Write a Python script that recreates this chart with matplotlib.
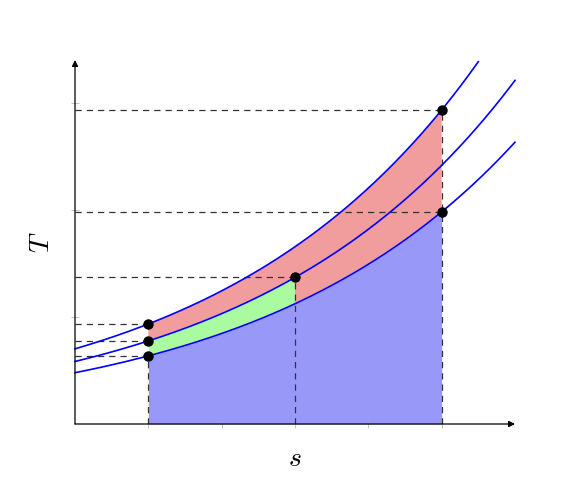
import numpy as np
import matplotlib
matplotlib.use("Agg")
import matplotlib.pyplot as plt
from matplotlib.patches import Polygon

plt.rcParams['mathtext.fontset'] = 'cm'

# isobar curves T = a * exp(b * s)
curve_a = [0.479, 0.584, 0.702]   # lower, middle, upper
curve_b = [0.284, 0.284, 0.286]
curve_smax = [6.0, 6.0, 5.5]

# state points (s, curve index)
s_left = 1.0
s_mid = 3.0
s_right = 5.0

x_ticks = [1, 2, 3, 4, 5]
y_ticks = [1, 2, 3]

red = '#f19d9d'
green = '#aafaa0'
blue = '#9898f8'

def T(i, s):
    return curve_a[i] * np.exp(curve_b[i] * np.asarray(s))

fig = plt.figure(figsize=(5.67, 4.84), dpi=100)
ax = fig.add_axes([75/567, 60/484, 440/567, 364/484])
ax.set_xlim(0, 6.0)
ax.set_ylim(0, 3.4)

# fills
s13 = np.linspace(s_left, s_mid, 100)
s35 = np.linspace(s_mid, s_right, 100)
s15 = np.linspace(s_left, s_right, 200)
ax.fill_between(s15, 0, T(0, s15), color=blue, lw=0, zorder=1)
ax.fill_between(s13, T(0, s13), T(1, s13), color=green, lw=0, zorder=1)
# red region: upper curve 1->5, down to lower at 5, lower 5->3, up to middle at 3, middle 3->1
xs = np.concatenate([s15, s35[::-1], s13[::-1]])
ys = np.concatenate([T(2, s15), T(0, s35[::-1]), T(1, s13[::-1])])
ax.add_patch(Polygon(np.column_stack([xs, ys]), closed=True, facecolor=red,
                     edgecolor='none', zorder=1))

# dashed guide lines
pts = [(s_left, 0), (s_left, 1), (s_left, 2), (s_mid, 1), (s_right, 0), (s_right, 2)]
dash = dict(color='#333333', lw=0.9, ls=(0, (5, 4)), zorder=2)
for s, i in pts:
    t = T(i, s)
    ax.plot([0, s], [t, t], **dash)
for s, i in [(s_left, 0), (s_mid, 1), (s_right, 2)]:
    ax.plot([s, s], [0, T(i, s)], **dash)

# curves
for i in range(3):
    ss = np.linspace(0, curve_smax[i], 300)
    ax.plot(ss, T(i, ss), color='#0000ff', lw=1.2, zorder=3, clip_on=False)

# points
for s, i in pts:
    ax.plot(s, T(i, s), 'o', color='black', ms=6.5, zorder=4)

# axes
for sp in ['top', 'right', 'left', 'bottom']:
    ax.spines[sp].set_visible(False)
ax.annotate('', xy=(6.0, 0), xytext=(0, 0),
            arrowprops=dict(arrowstyle='-|>', color='black', lw=0.9,
                            mutation_scale=9, shrinkA=0, shrinkB=0), zorder=5)
ax.annotate('', xy=(0, 3.4), xytext=(0, 0),
            arrowprops=dict(arrowstyle='-|>', color='black', lw=0.9,
                            mutation_scale=9, shrinkA=0, shrinkB=0), zorder=5)
ax.set_xticks(x_ticks)
ax.set_yticks(y_ticks)
ax.set_xticklabels([])
ax.set_yticklabels([])
ax.tick_params(direction='inout', length=6, width=0.5, color='#aaaaaa')

ax.set_xlabel('$s$', fontsize=20, labelpad=8)
ax.set_ylabel('$T$', fontsize=20, labelpad=8)

fig.savefig('out.png', dpi=100)
